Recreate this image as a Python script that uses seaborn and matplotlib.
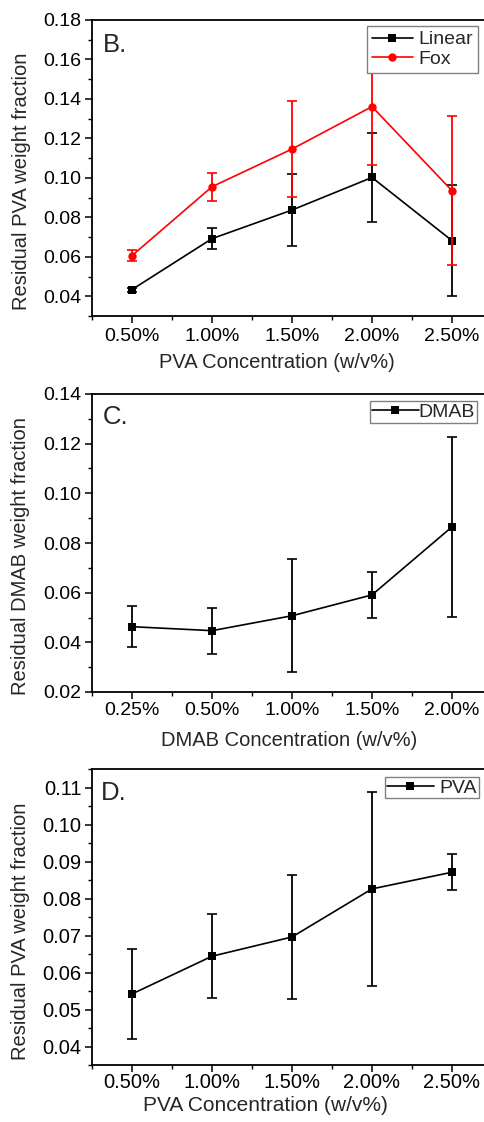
import numpy as np
import pandas as pd
import matplotlib
matplotlib.use("Agg")
import matplotlib.pyplot as plt
from matplotlib.ticker import MultipleLocator, FixedLocator
import seaborn as sns

# ---------------- data ----------------
pva_labels = ["0.50%", "1.00%", "1.50%", "2.00%", "2.50%"]
dmab_labels = ["0.25%", "0.50%", "1.00%", "1.50%", "2.00%"]

linear_mean = [0.0434, 0.0692, 0.0837, 0.1002, 0.0682]
linear_err = [0.0010, 0.0052, 0.0182, 0.0225, 0.0281]
fox_mean = [0.0606, 0.0955, 0.1146, 0.1361, 0.0935]
fox_err = [0.0027, 0.0070, 0.0242, 0.0295, 0.0377]

dmab_mean = [0.0463, 0.0447, 0.0507, 0.0591, 0.0865]
dmab_err = [0.0083, 0.0093, 0.0227, 0.0091, 0.0362]

pvaD_mean = [0.0542, 0.0644, 0.0696, 0.0826, 0.0871]
pvaD_err = [0.0121, 0.0114, 0.0167, 0.0263, 0.0049]

# ---------------- style ----------------
sns.set_theme(style="ticks")
plt.rcParams['font.family'] = ['Liberation Sans', 'DejaVu Sans']
plt.rcParams['axes.linewidth'] = 1.3
plt.rcParams['xtick.direction'] = 'out'
plt.rcParams['ytick.direction'] = 'out'

W, H = 484, 1122
fig = plt.figure(figsize=(W / 100, H / 100), dpi=100)

TICK_FS = 14
LABEL_FS = 14.5
LEG_FS = 14


def make_axes(top_px, bottom_px):
    left_px, right_px = 92, 492
    return fig.add_axes([left_px / W, 1 - bottom_px / H,
                         (right_px - left_px) / W, (bottom_px - top_px) / H])


def style_axes(ax, labels, ylim, ymajor, yminor, fs, pad_x):
    ax.set_xlim(-0.5, len(labels) - 0.5)
    ax.set_ylim(*ylim)
    ax.set_xticks(np.arange(len(labels)))
    ax.set_xticklabels(labels)
    ax.xaxis.set_minor_locator(FixedLocator(np.arange(-0.5, len(labels), 1.0)))
    ax.yaxis.set_major_locator(MultipleLocator(ymajor))
    ax.yaxis.set_minor_locator(MultipleLocator(yminor))
    ax.yaxis.set_major_formatter(matplotlib.ticker.FormatStrFormatter('%.2f'))
    ax.tick_params(axis='both', which='major', length=5, width=1.1,
                   labelsize=fs, color='black', labelcolor='black')
    ax.tick_params(axis='both', which='minor', length=3, width=1.0, color='black')
    ax.tick_params(axis='x', which='major', pad=pad_x)
    ax.tick_params(axis='y', which='major', pad=2.5)
    ax.tick_params(top=False, right=False, which='both')
    for s in ax.spines.values():
        s.set_color('black')
        s.set_linewidth(1.3)
    ax.grid(False)


def draw_series(ax, means, errs, color, marker, label, ms):
    df = pd.DataFrame({"x": np.arange(len(means)), "y": means})
    sns.lineplot(data=df, x="x", y="y", ax=ax, color=color, marker=marker,
                 markersize=ms, markeredgewidth=0, linewidth=1.2, label=label)
    ax.errorbar(np.arange(len(means)), means, yerr=errs, fmt='none',
                ecolor=color, elinewidth=1.3, capsize=3.5, capthick=1.2)


def add_legend(ax, anchor, textpad, borderpad, hl):
    leg = ax.legend(loc='upper right', bbox_to_anchor=anchor,
                    frameon=True, fancybox=False, edgecolor='#808080',
                    framealpha=1, fontsize=LEG_FS, handlelength=hl,
                    handletextpad=textpad, borderpad=borderpad,
                    labelspacing=0.1, borderaxespad=0)
    leg.get_frame().set_linewidth(1.0)
    return leg


# ---------------- Panel B ----------------
axB = make_axes(20, 316)
draw_series(axB, linear_mean, linear_err, 'black', 's', 'Linear', 5.2)
draw_series(axB, fox_mean, fox_err, '#ff0000', 'o', 'Fox', 6)
style_axes(axB, pva_labels, (0.03, 0.18), 0.02, 0.01, TICK_FS, 3.5)
axB.set_xlabel("PVA Concentration (w/v%)", fontsize=LABEL_FS)
axB.set_ylabel("Residual PVA weight fraction", fontsize=LABEL_FS)
axB.xaxis.set_label_coords(0.4625, -0.125)
axB.yaxis.set_label_coords(-0.153, 0.455)
axB.text(0.0275, 0.916, "B.", transform=axB.transAxes, fontsize=18.5,
         va='center', ha='left')
add_legend(axB, (0.965, 0.98), 0.3, 0.25, 2.1)

# ---------------- Panel C ----------------
axC = make_axes(394, 692)
draw_series(axC, dmab_mean, dmab_err, 'black', 's', 'DMAB', 5.2)
style_axes(axC, dmab_labels, (0.02, 0.14), 0.02, 0.01, TICK_FS, 2.5)
axC.set_xlabel("DMAB Concentration (w/v%)", fontsize=LABEL_FS)
axC.set_ylabel("Residual DMAB weight fraction", fontsize=LABEL_FS)
axC.xaxis.set_label_coords(0.4925, -0.131)
axC.yaxis.set_label_coords(-0.155, 0.456)
axC.text(0.0275, 0.923, "C.", transform=axC.transAxes, fontsize=18.5,
         va='center', ha='left')
add_legend(axC, (0.9625, 0.9765), 0.0, 0.1, 2.4)

# ---------------- Panel D ----------------
axD = make_axes(769, 1065)
draw_series(axD, pvaD_mean, pvaD_err, 'black', 's', 'PVA', 5.2)
style_axes(axD, pva_labels, (0.035, 0.115), 0.01, 0.005, 14.5, 1.0)
axD.set_xlabel("PVA Concentration (w/v%)", fontsize=15)
axD.set_ylabel("Residual PVA weight fraction", fontsize=LABEL_FS)
axD.xaxis.set_label_coords(0.4325, -0.105)
axD.yaxis.set_label_coords(-0.155, 0.453)
axD.text(0.0225, 0.919, "D.", transform=axD.transAxes, fontsize=18.5,
         va='center', ha='left')
add_legend(axD, (0.9675, 0.973), 0.3, 0.1, 2.4)

fig.savefig("out.png", dpi=100, facecolor='white')
